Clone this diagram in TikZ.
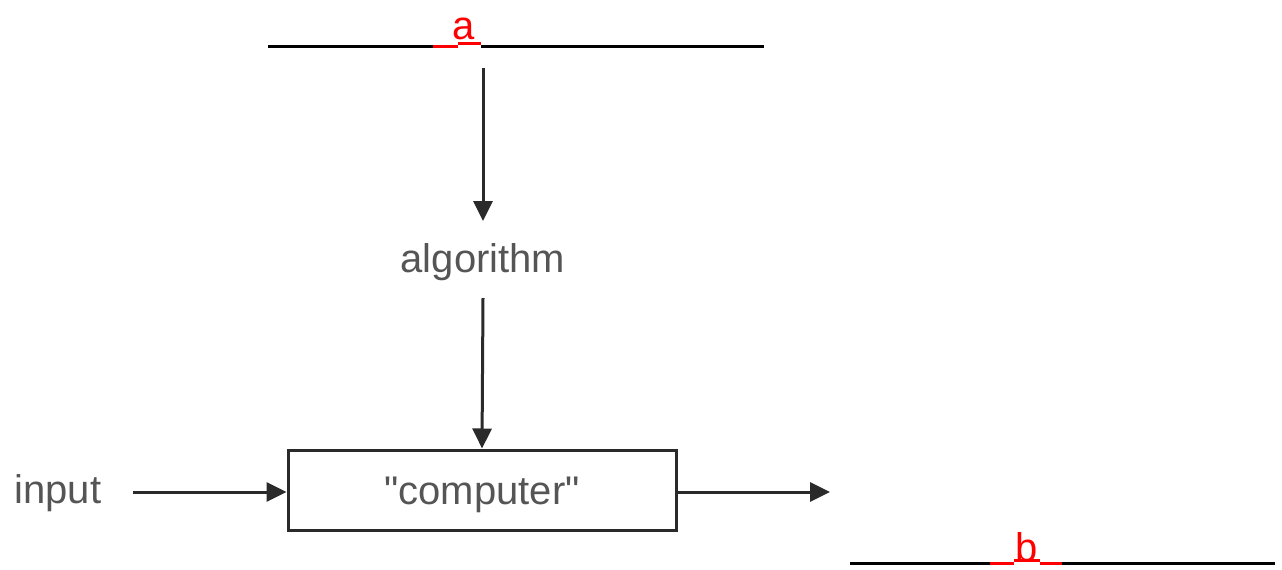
\documentclass[tikz,border=0pt]{standalone}
\usepackage{fontspec}
\setmainfont{Liberation Sans}[Ligatures=TeXOff]
\usetikzlibrary{arrows.meta}
\definecolor{txtgray}{HTML}{555555}
\definecolor{linegray}{HTML}{2A2A2A}
\begin{document}
\begin{tikzpicture}[x=1pt,y=-1pt,
  conn/.style={draw=linegray,line width=3pt,-{Triangle[length=20pt,width=19pt]}},
  lbl/.style={text=txtgray,font=\fontsize{40}{44}\selectfont,inner sep=0pt},
  blank/.style={draw=black,line width=3pt},
  redmark/.style={draw=red,line width=3pt},
  redlbl/.style={text=red,font=\fontsize{40}{44}\selectfont,inner sep=0pt},
  box/.style={draw=linegray,line width=3pt,minimum width=388pt,minimum height=80pt,inner sep=0pt}]
\useasboundingbox (0,0) rectangle (1282,570);
% top blank a
\coordinate (tl) at (268,46);
\coordinate (tr) at (764,46);
\draw[blank] (tl) -- (433,46);
\draw[blank] (481,46) -- (tr);
\draw[redmark] (433,46) -- (458,46);
\draw[redmark] (458,43.5) -- (481,43.5);
\node[redlbl] (a) at (464,29) {a};
% bottom blank b
\coordinate (bl) at (850,563);
\coordinate (br) at (1275,563);
\draw[blank] (bl) -- (990,563);
\draw[blank] (1062,563) -- (br);
\draw[redmark] (990,563) -- (1014,563);
\draw[redmark] (1014,560.5) -- (1040,560.5);
\draw[redmark] (1040,563) -- (1062,563);
\node[redlbl] (b) at (1027,547) {b};
% main
\node[lbl] (alg) at (483,262) {algorithm};
\node[box] (comp) at (482,490) {};
\node[lbl] at ([yshift=-5pt]comp.center) {"computer"};
\node[lbl] (inp) at (58,493) {input};
\coordinate (astart) at (483,68);
\coordinate (inpend) at (133,492);
\coordinate (outend) at (830,492);
\draw[conn] (astart) -- (483,221);
\draw[conn] (alg.south |- 0,298) -- (comp.north);
\draw[conn] (inpend) -- (comp.west |- inpend);
\draw[conn] (comp.east |- outend) -- (outend);
\end{tikzpicture}
\end{document}
